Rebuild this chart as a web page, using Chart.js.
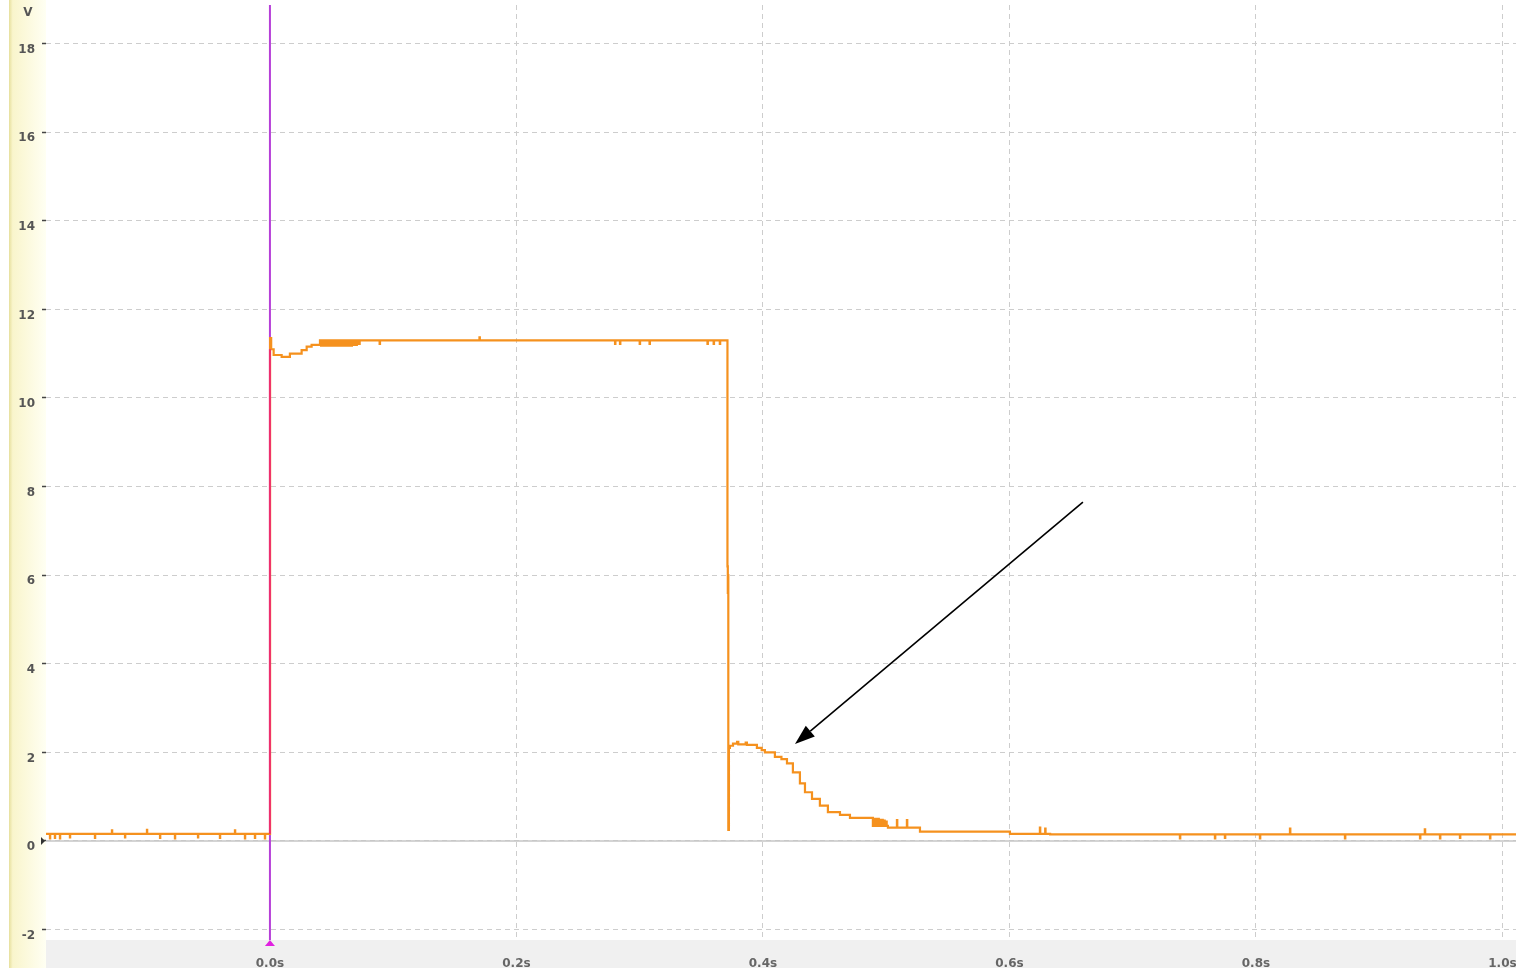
<!DOCTYPE html>
<html>
<head>
<meta charset="utf-8">
<title>Voltage trace</title>
<script src="https://cdn.jsdelivr.net/npm/chart.js@4.4.1/dist/chart.umd.min.js"></script>
<style>
  html, body { margin: 0; padding: 0; background: #fff; }
  #wrap { position: relative; width: 1516px; height: 968px; }
</style>
</head>
<body>
<div id="wrap"><canvas id="scope"></canvas></div>
<script>
'use strict';

// axis ranges and tick values
var xMin = -0.1817, xMax = 1.0110;
var yMin = -2.235,  yMax = 18.871;
var xTicks = [0, 0.2, 0.4, 0.6, 0.8, 1.0];
var yTicks = [-2, 0, 2, 4, 6, 8, 10, 12, 14, 16, 18];
var yUnit  = 'V';

// trace, as [time s, volts]; drawn as a step line (each level holds up to the next point)
var preTrigger = [
    [-0.1817, 0.16],
    [-0.1785, 0.06], [-0.1783, 0.16],
    [-0.1745, 0.07], [-0.1743, 0.16],
    [-0.1704, 0.06], [-0.1702, 0.16],
    [-0.1623, 0.08], [-0.1621, 0.16],
    [-0.1420, 0.07], [-0.1418, 0.16],
    [-0.1282, 0.24], [-0.1280, 0.16],
    [-0.1176, 0.08], [-0.1174, 0.16],
    [-0.0998, 0.25], [-0.0996, 0.16],
    [-0.0892, 0.07], [-0.0890, 0.16],
    [-0.0771, 0.06], [-0.0769, 0.16],
    [-0.0584, 0.08], [-0.0582, 0.16],
    [-0.0406, 0.07], [-0.0404, 0.16],
    [-0.0284, 0.24], [-0.0282, 0.16],
    [-0.0203, 0.06], [-0.0201, 0.16],
    [-0.0122, 0.07], [-0.0120, 0.16],
    [-0.0041, 0.06], [-0.0039, 0.16],
    [0.0000, 0.16]
];

var riseSettle = [
    [0.0001, 11.35], [0.0010, 11.10], [0.0030, 10.97], [0.0095, 10.93],
    [0.0162, 11.00], [0.0257, 11.08], [0.0298, 11.16], [0.0338, 11.20],
    [0.0406, 11.30],
    [0.0415, 11.18], [0.0425, 11.30], [0.0435, 11.18], [0.0445, 11.30],
    [0.0455, 11.18], [0.0465, 11.30], [0.0475, 11.18], [0.0485, 11.30],
    [0.0495, 11.18], [0.0505, 11.30], [0.0515, 11.18], [0.0525, 11.30],
    [0.0535, 11.18], [0.0545, 11.30], [0.0555, 11.18], [0.0565, 11.30],
    [0.0575, 11.18], [0.0585, 11.30], [0.0595, 11.18], [0.0605, 11.30],
    [0.0615, 11.18], [0.0625, 11.30], [0.0635, 11.18], [0.0645, 11.30],
    [0.0655, 11.18], [0.0665, 11.30], [0.0675, 11.20], [0.0685, 11.30],
    [0.0695, 11.20], [0.0705, 11.30], [0.0720, 11.22], [0.0728, 11.30]
];

var plateau = [
    [0.0890, 11.22], [0.0893, 11.30],
    [0.1700, 11.37], [0.1703, 11.30],
    [0.2800, 11.22], [0.2803, 11.30],
    [0.2840, 11.22], [0.2843, 11.30],
    [0.3000, 11.22], [0.3003, 11.30],
    [0.3080, 11.22], [0.3083, 11.30],
    [0.3550, 11.22], [0.3553, 11.30],
    [0.3600, 11.22], [0.3603, 11.30],
    [0.3650, 11.22], [0.3653, 11.30],
    [0.3710, 11.30]
];

var dropDecay = [
    [0.3712, 6.20], [0.3715, 5.60], [0.3717, 6.00], [0.3719, 0.25],
    [0.3724, 2.10], [0.3732, 2.15], [0.3757, 2.20], [0.3790, 2.24],
    [0.3800, 2.18], [0.3860, 2.22], [0.3870, 2.17], [0.3951, 2.10],
    [0.3990, 2.05], [0.4016, 2.00], [0.4097, 1.90], [0.4150, 1.85],
    [0.4195, 1.75], [0.4243, 1.55], [0.4300, 1.30], [0.4341, 1.10],
    [0.4398, 0.95], [0.4462, 0.80], [0.4527, 0.65], [0.4625, 0.59],
    [0.4706, 0.52],
    [0.4892, 0.34], [0.4900, 0.50], [0.4908, 0.34], [0.4916, 0.50],
    [0.4924, 0.34], [0.4932, 0.50], [0.4940, 0.34], [0.4948, 0.48],
    [0.4956, 0.34], [0.4964, 0.48], [0.4972, 0.34], [0.4980, 0.46],
    [0.4988, 0.34], [0.4996, 0.44], [0.5004, 0.34],
    [0.5014, 0.30], [0.5087, 0.47], [0.5090, 0.30], [0.5168, 0.47],
    [0.5171, 0.30], [0.5274, 0.21], [0.6004, 0.16]
];

var tail = [
    [0.6247, 0.30], [0.6250, 0.16],
    [0.6290, 0.28], [0.6293, 0.16],
    [0.6330, 0.15],
    [0.7383, 0.06], [0.7386, 0.15],
    [0.7667, 0.06], [0.7670, 0.15],
    [0.7748, 0.07], [0.7751, 0.15],
    [0.8032, 0.06], [0.8035, 0.15],
    [0.8276, 0.28], [0.8279, 0.15],
    [0.8722, 0.06], [0.8725, 0.15],
    [0.9331, 0.06], [0.9334, 0.15],
    [0.9370, 0.26], [0.9373, 0.15],
    [0.9493, 0.06], [0.9496, 0.15],
    [0.9655, 0.07], [0.9658, 0.15],
    [0.9899, 0.06], [0.9902, 0.15],
    [1.0110, 0.15]
];

// trigger cursor at t = 0, and the overlapped rising edge
var cursorTime = 0;
var riseEdge   = [[0, 0.16], [0, 11.10]];

// annotation arrow (data units): from, to
var arrowFrom = [0.6596, 7.65];
var arrowTo   = [0.4260, 2.19];

var colorTrace  = '#f5911e';
var colorCursor = '#b63fd8';
var colorEdge   = '#ee2f6e';
var colorGrid   = '#cdcdcd';
var tickFont    = { family: 'DejaVu Sans', size: 12, weight: 'bold' };

function toPoints(rows) {
    return rows.map(function (r) { return { x: r[0], y: r[1] }; });
}

var traceData = toPoints([].concat(preTrigger, riseSettle, plateau, dropDecay, tail));

// Background bands: yellow strip on the left, grey strip under the plot
var bandsPlugin = {
    id: 'bands',
    beforeDraw: function (chart) {
        var ctx = chart.ctx, a = chart.chartArea;
        ctx.save();
        ctx.fillStyle = '#ffffff';
        ctx.fillRect(0, 0, chart.width, chart.height);
        var g = ctx.createLinearGradient(9, 0, a.left, 0);
        g.addColorStop(0, '#e6df9c');
        g.addColorStop(0.1, '#f9f5cc');
        g.addColorStop(1, '#fffff3');
        ctx.fillStyle = g;
        ctx.fillRect(9, 0, a.left - 9, chart.height);
        ctx.fillStyle = '#f0f0f0';
        ctx.fillRect(a.left, a.bottom, a.right - a.left, chart.height - a.bottom);
        ctx.restore();
    },
    beforeDatasetsDraw: function (chart) {
        // solid zero line
        var ctx = chart.ctx, a = chart.chartArea;
        var y0 = chart.scales.y.getPixelForValue(0);
        ctx.save();
        ctx.strokeStyle = '#c6c6c6';
        ctx.lineWidth = 1.5;
        ctx.beginPath();
        ctx.moveTo(a.left, y0);
        ctx.lineTo(a.right, y0);
        ctx.stroke();
        ctx.restore();
    },
    afterDraw: function (chart) {
        var ctx = chart.ctx, a = chart.chartArea;
        var xs = chart.scales.x, ys = chart.scales.y;

        // unit label
        ctx.save();
        ctx.font = 'bold 12px "DejaVu Sans"';
        ctx.fillStyle = '#555';
        ctx.textAlign = 'center';
        ctx.textBaseline = 'middle';
        ctx.fillText(yUnit, 28, 13);

        // zero marker on the left
        var y0 = ys.getPixelForValue(0);
        ctx.fillStyle = '#333';
        ctx.beginPath();
        ctx.moveTo(a.left - 1, y0);
        ctx.lineTo(a.left - 5, y0 - 4);
        ctx.lineTo(a.left - 5, y0 + 4);
        ctx.closePath();
        ctx.fill();

        // trigger marker at the bottom
        var xc = xs.getPixelForValue(cursorTime);
        ctx.fillStyle = '#e020e0';
        ctx.beginPath();
        ctx.moveTo(xc, a.bottom);
        ctx.lineTo(xc - 5, a.bottom + 6);
        ctx.lineTo(xc + 5, a.bottom + 6);
        ctx.closePath();
        ctx.fill();

        // arrow
        var x1 = xs.getPixelForValue(arrowFrom[0]), y1 = ys.getPixelForValue(arrowFrom[1]);
        var x2 = xs.getPixelForValue(arrowTo[0]),   y2 = ys.getPixelForValue(arrowTo[1]);
        var ang = Math.atan2(y2 - y1, x2 - x1);
        var len = 20, half = 7;
        var bx = x2 - len * Math.cos(ang), by = y2 - len * Math.sin(ang);
        ctx.strokeStyle = '#000';
        ctx.lineWidth = 1.6;
        ctx.beginPath();
        ctx.moveTo(x1, y1);
        ctx.lineTo(bx, by);
        ctx.stroke();
        ctx.fillStyle = '#000';
        ctx.beginPath();
        ctx.moveTo(x2, y2);
        ctx.lineTo(bx + half * Math.sin(ang), by - half * Math.cos(ang));
        ctx.lineTo(bx - half * Math.sin(ang), by + half * Math.cos(ang));
        ctx.closePath();
        ctx.fill();
        ctx.restore();
    }
};

new Chart(document.getElementById('scope'), {
    type: 'line',
    data: {
        datasets: [
            {
                label: 'edge',
                data: toPoints(riseEdge),
                borderColor: colorEdge,
                borderWidth: 2,
                order: 0
            },
            {
                label: 'trace',
                data: traceData,
                borderColor: colorTrace,
                borderWidth: 2.2,
                stepped: 'before',
                order: 1
            },
            {
                label: 'cursor',
                data: [{ x: cursorTime, y: yMin }, { x: cursorTime, y: yMax }],
                borderColor: colorCursor,
                borderWidth: 2,
                order: 2
            }
        ]
    },
    options: {
        responsive: true,
        maintainAspectRatio: false,
        animation: false,
        parsing: false,
        normalized: true,
        layout: { padding: { top: 5, left: 0, right: 0, bottom: 0 } },
        elements: {
            point: { radius: 0, hoverRadius: 0 },
            line: { tension: 0, fill: false }
        },
        plugins: {
            legend: { display: false },
            tooltip: { enabled: false }
        },
        scales: {
            x: {
                type: 'linear',
                min: xMin,
                max: xMax,
                afterBuildTicks: function (s) {
                    s.ticks = xTicks.map(function (v) { return { value: v }; });
                },
                afterFit: function (s) {
                    s.height = 28;
                    s.paddingLeft = 0;
                    s.paddingRight = 0;
                },
                grid: {
                    color: function (ctx) {
                        return ctx.tick && ctx.tick.value === 0 ? 'rgba(0,0,0,0)' : colorGrid;
                    },
                    lineWidth: 1,
                    drawTicks: false
                },
                border: { display: false, dash: [5, 4] },
                ticks: {
                    padding: 17,
                    color: '#666',
                    font: tickFont,
                    maxRotation: 0,
                    autoSkip: false,
                    callback: function (v) { return Number(v).toFixed(1) + 's'; }
                }
            },
            y: {
                type: 'linear',
                min: yMin,
                max: yMax,
                afterBuildTicks: function (s) {
                    s.ticks = yTicks.map(function (v) { return { value: v }; });
                },
                afterFit: function (s) {
                    s.width = 46;
                    s.paddingTop = 0;
                    s.paddingBottom = 0;
                },
                grid: {
                    color: colorGrid,
                    lineWidth: 1,
                    drawTicks: true,
                    tickLength: 4,
                    tickColor: '#444',
                    tickWidth: 1.5
                },
                border: { display: false, dash: [5, 4] },
                ticks: {
                    padding: 7,
                    labelOffset: 6,
                    color: '#555',
                    font: tickFont,
                    autoSkip: false,
                    callback: function (v) { return String(v); }
                }
            }
        }
    },
    plugins: [bandsPlugin]
});
</script>
</body>
</html>
